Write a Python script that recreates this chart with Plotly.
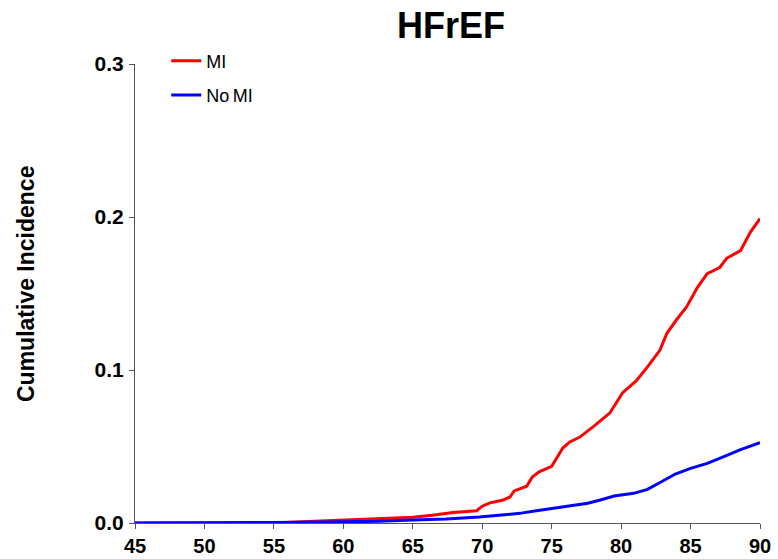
import plotly.graph_objects as go

# ---- data ----
mi_age = [45, 50, 55, 57.5, 60.5, 62, 63, 65, 66.4, 67.9, 69.6, 70, 70.5, 71.5, 72, 72.3,
          73.2, 73.6, 74.1, 75, 75.4, 75.8, 76.3, 77, 78, 79.2, 80.1, 81.1, 81.9, 82.8,
          83.3, 84, 84.7, 85.5, 86.2, 87.1, 87.6, 88.6, 89.3, 90]
mi_inc = [0, 0, 0, 0.001, 0.002, 0.0025, 0.003, 0.0037, 0.005, 0.0068, 0.008, 0.011, 0.013,
          0.015, 0.017, 0.021, 0.024, 0.030, 0.0335, 0.037, 0.043, 0.049, 0.053, 0.056,
          0.063, 0.072, 0.085, 0.093, 0.102, 0.113, 0.124, 0.133, 0.141, 0.154, 0.163,
          0.167, 0.173, 0.178, 0.190, 0.199]

nomi_age = [45, 50, 55, 60, 62.6, 65, 67.4, 69.8, 71, 72.7, 73.9, 75, 76.1, 77.6, 78.5,
            79.5, 80.9, 81.9, 82.9, 83.9, 85, 86.2, 87.4, 88.6, 90]
nomi_inc = [0, 0, 0.0003, 0.0008, 0.0011, 0.002, 0.0026, 0.004, 0.005, 0.0063, 0.008,
            0.0096, 0.011, 0.0129, 0.015, 0.0176, 0.0194, 0.022, 0.027, 0.032, 0.0357,
            0.039, 0.0434, 0.048, 0.0525]

x_ticks = [45, 50, 55, 60, 65, 70, 75, 80, 85, 90]
y_ticks = [0.0, 0.1, 0.2, 0.3]
series_names = ["MI", "No\u2009MI"]
title_text = "HFrEF"
y_title = "Cumulative Incidence"

FONT = "Arial, Liberation Sans, sans-serif"
AX = "#555555"

fig = go.Figure()
fig.add_trace(go.Scatter(x=mi_age, y=mi_inc, mode="lines", name=series_names[0],
                         legendgroup="a", line=dict(color="#FF0000", width=3)))
fig.add_trace(go.Scatter(x=nomi_age, y=nomi_inc, mode="lines", name=series_names[1],
                         legendgroup="b", line=dict(color="#0000FF", width=3)))

fig.update_layout(
    width=778, height=559,
    margin=dict(l=135, r=18, t=64, b=36, autoexpand=False),
    paper_bgcolor="white", plot_bgcolor="white",
    title=dict(text="<b>" + title_text + "</b>", x=451 / 778, xanchor="center",
               y=1 - 25 / 559, yanchor="middle", xref="container", yref="container",
               font=dict(family=FONT, size=36, color="black")),
    showlegend=True,
    legend=dict(x=0.05, y=1.047, xanchor="left", yanchor="top",
                font=dict(family=FONT, size=18, color="black"),
                bgcolor="rgba(0,0,0,0)", traceorder="grouped", tracegroupgap=8,
                itemwidth=30),
    xaxis=dict(range=[45, 90], tickvals=x_ticks, ticktext=["<b>%d</b>" % v for v in x_ticks],
               showgrid=False, zeroline=False, showline=True, linecolor=AX, linewidth=1,
               ticks="outside", ticklen=5, tickcolor=AX, tickwidth=1, automargin=False,
               ticklabelstandoff=0,
               tickfont=dict(family=FONT, size=20, color="black")),
    yaxis=dict(range=[0, 0.3], tickvals=y_ticks, ticktext=["<b>%.1f</b>" % v for v in y_ticks],
               showgrid=False, zeroline=False, showline=True, linecolor=AX, linewidth=1,
               ticks="outside", ticklen=5, tickcolor=AX, tickwidth=1, automargin=False,
               ticklabelstandoff=1,
               tickfont=dict(family=FONT, size=21, color="black")),
    annotations=[dict(text="<b>" + y_title + "</b>", xref="paper", yref="paper",
                      x=(26 - 135) / 625, y=(523 - 284) / 459, xanchor="center",
                      yanchor="middle", textangle=-90, showarrow=False,
                      font=dict(family=FONT, size=23, color="black"))],
)

fig.write_html("out.html", config={"displayModeBar": False},
               post_script="document.body.style.margin='0';document.body.style.overflow='hidden';")
